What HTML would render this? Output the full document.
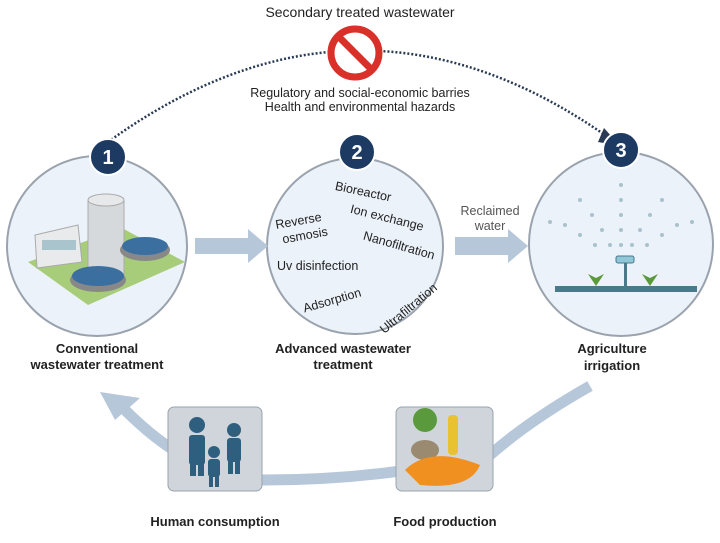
<!DOCTYPE html>
<html><head><meta charset="utf-8"><style>
body{margin:0;background:#fff}
svg text{font-family:"Liberation Sans",sans-serif}
</style></head><body>
<svg width="720" height="538" viewBox="0 0 720 538" xmlns="http://www.w3.org/2000/svg">
<!-- top arc -->
<path d="M108,142 Q360,-40 612,140" fill="none" stroke="#2a3a55" stroke-width="2.5" stroke-dasharray="2,2"/>
<polygon points="604,128 620,146 598,142" fill="#2a3a55"/>
<text x="360" y="17" font-size="14" text-anchor="middle" fill="#222">Secondary treated wastewater</text>
<circle cx="355" cy="53" r="24" fill="#fff" stroke="#d9302a" stroke-width="7"/>
<line x1="339" y1="37" x2="371" y2="69" stroke="#d9302a" stroke-width="7"/>
<text x="360" y="97" font-size="12.5" text-anchor="middle" fill="#222">Regulatory and social-economic barries</text>
<text x="360" y="111" font-size="12.5" text-anchor="middle" fill="#222">Health and environmental hazards</text>
<!-- circles -->
<circle cx="97" cy="246" r="90" fill="#ecf2fa" stroke="#9aa3ad" stroke-width="2"/>
<circle cx="355" cy="246" r="88" fill="#ecf2fa" stroke="#9aa3ad" stroke-width="2"/>
<circle cx="621" cy="244" r="92" fill="#ecf2fa" stroke="#9aa3ad" stroke-width="2"/>
<!-- arrows -->
<polygon points="195,238 248,238 248,229 268,246 248,263 248,254 195,254" fill="#b7c7da"/>
<polygon points="455,237 508,237 508,229 528,246 508,263 508,255 455,255" fill="#b7c7da"/>
<text x="490" y="215" font-size="12.5" text-anchor="middle" fill="#555">Reclaimed</text>
<text x="490" y="230" font-size="12.5" text-anchor="middle" fill="#555">water</text>
<!-- badges -->
<circle cx="108" cy="157" r="18" fill="#1d3a63" stroke="#fff" stroke-width="2"/>
<text x="108" y="164" font-size="20" font-weight="bold" fill="#fff" text-anchor="middle">1</text>
<circle cx="357" cy="152" r="18" fill="#1d3a63" stroke="#fff" stroke-width="2"/>
<text x="357" y="159" font-size="20" font-weight="bold" fill="#fff" text-anchor="middle">2</text>
<circle cx="621" cy="150" r="18" fill="#1d3a63" stroke="#fff" stroke-width="2"/>
<text x="621" y="157" font-size="20" font-weight="bold" fill="#fff" text-anchor="middle">3</text>
<!-- plant -->
<polygon points="28,262 122,228 185,262 88,305" fill="#a7cc7a"/>
<rect x="88" y="200" width="36" height="78" fill="#d6d9dc" stroke="#aaa"/>
<ellipse cx="106" cy="200" rx="18" ry="6" fill="#e6e8ea" stroke="#aaa"/>
<polygon points="35,235 78,225 82,262 37,268" fill="#e8eaec" stroke="#aaa"/>
<rect x="42" y="240" width="34" height="10" fill="#a9c4cc"/>
<ellipse cx="98" cy="280" rx="28" ry="12" fill="#888"/><ellipse cx="98" cy="276" rx="26" ry="10" fill="#3b6fa0"/>
<ellipse cx="145" cy="250" rx="25" ry="11" fill="#888"/><ellipse cx="145" cy="246" rx="23" ry="9" fill="#3b6fa0"/>
<!-- advanced texts -->
<g font-size="12.5" fill="#222">
<text x="335" y="195" transform="rotate(12 360 190)">Bioreactor</text>
<text x="350" y="220" transform="rotate(14 380 215)">Ion exchange</text>
<text x="362" y="247" transform="rotate(16 390 245)">Nanofiltration</text>
<text x="275" y="225" transform="rotate(-10 298 220)">Reverse</text>
<text x="282" y="240" transform="rotate(-10 302 235)">osmosis</text>
<text x="277" y="270">Uv disinfection</text>
<text x="302" y="305" transform="rotate(-16 330 300)">Adsorption</text>
<text x="366" y="316" transform="rotate(-40 400 300)">Ultrafiltration</text>
</g>
<!-- sprinkler -->
<g fill="#a8c3cc">
<circle cx="621" cy="185" r="2"/><circle cx="621" cy="200" r="2"/><circle cx="621" cy="215" r="2"/><circle cx="621" cy="230" r="2"/><circle cx="621" cy="245" r="2"/>
<circle cx="580" cy="200" r="2"/><circle cx="592" cy="215" r="2"/><circle cx="602" cy="230" r="2"/><circle cx="610" cy="245" r="2"/>
<circle cx="662" cy="200" r="2"/><circle cx="650" cy="215" r="2"/><circle cx="640" cy="230" r="2"/><circle cx="632" cy="245" r="2"/>
<circle cx="565" cy="225" r="2"/><circle cx="580" cy="235" r="2"/><circle cx="595" cy="245" r="2"/>
<circle cx="677" cy="225" r="2"/><circle cx="662" cy="235" r="2"/><circle cx="647" cy="245" r="2"/>
<circle cx="550" cy="222" r="2"/><circle cx="692" cy="222" r="2"/>
</g>
<rect x="555" y="286" width="142" height="6" fill="#4a7a8a"/>
<rect x="624" y="262" width="3" height="26" fill="#4a7a8a"/>
<rect x="616" y="256" width="18" height="7" rx="2" fill="#8fc7d8" stroke="#4a7a8a"/>
<path d="M596,286 l-8,-12 l8,4 l8,-4z" fill="#5a9a3a"/><path d="M650,286 l-8,-12 l8,4 l8,-4z" fill="#5a9a3a"/>
<!-- labels -->
<g font-size="13" font-weight="bold" fill="#222" text-anchor="middle">
<text x="97" y="353">Conventional</text><text x="97" y="369">wastewater treatment</text>
<text x="343" y="353">Advanced wastewater</text><text x="343" y="369">treatment</text>
<text x="612" y="353">Agriculture</text><text x="612" y="370">irrigation</text>
<text x="215" y="526">Human consumption</text><text x="445" y="526">Food production</text>
</g>
<!-- bottom loop -->
<path d="M590,386 Q530,420 490,455 Q380,480 265,480 Q195,480 125,410" fill="none" stroke="#b7c7da" stroke-width="11"/>
<polygon points="100,392 140,398 115,420" fill="#b7c7da"/>
<rect x="168" y="407" width="94" height="84" rx="6" fill="#cfd5db" stroke="#9aa3ad"/>
<rect x="396" y="407" width="97" height="84" rx="6" fill="#cfd5db" stroke="#9aa3ad"/>
<g fill="#2f5f7e">
<circle cx="197" cy="425" r="8"/><rect x="189" y="435" width="16" height="30" rx="3"/><rect x="190" y="460" width="6" height="16"/><rect x="198" y="460" width="6" height="16"/>
<circle cx="234" cy="430" r="7"/><rect x="227" y="438" width="14" height="24" rx="3"/><rect x="228" y="458" width="5" height="16"/><rect x="235" y="458" width="5" height="16"/>
<circle cx="214" cy="452" r="6"/><rect x="208" y="459" width="12" height="18" rx="3"/><rect x="209" y="475" width="4" height="12"/><rect x="215" y="475" width="4" height="12"/>
</g>
<ellipse cx="425" cy="420" rx="12" ry="12" fill="#5b9a3c"/>
<rect x="448" y="415" width="10" height="40" rx="4" fill="#e8c230"/>
<ellipse cx="425" cy="450" rx="14" ry="10" fill="#998a70"/>
<path d="M405,470 Q430,445 480,465 Q470,490 420,485z" fill="#f09020"/>
</svg>
</body></html>
